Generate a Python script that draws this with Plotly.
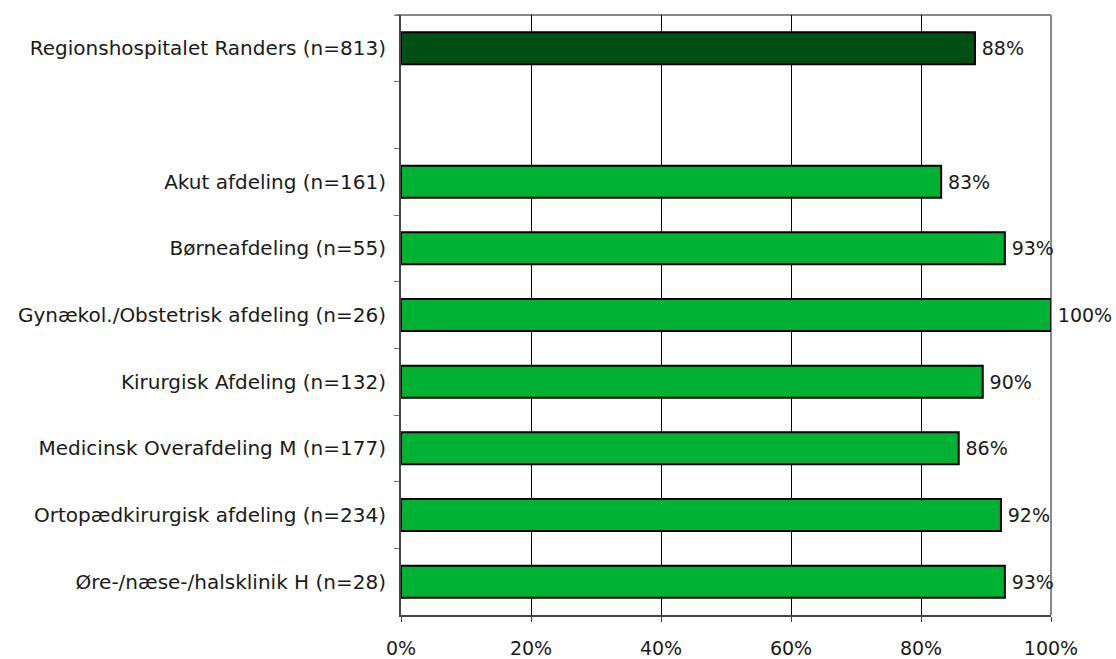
import plotly.graph_objects as go

categories = [
    "Regionshospitalet Randers (n=813)",
    " ",
    "Akut afdeling (n=161)",
    "Børneafdeling (n=55)",
    "Gynækol./Obstetrisk afdeling (n=26)",
    "Kirurgisk Afdeling (n=132)",
    "Medicinsk Overafdeling M (n=177)",
    "Ortopædkirurgisk afdeling (n=234)",
    "Øre-/næse-/halsklinik H (n=28)",
]
values = [88.3, None, 83.1, 92.9, 100.0, 89.5, 85.8, 92.3, 92.9]
colors = ["#004F14", "#00B233", "#00B233", "#00B233", "#00B233", "#00B233", "#00B233", "#00B233", "#00B233"]
x_ticks = [0, 20, 40, 60, 80, 100]
x_tick_text = ["0%", "20%", "40%", "60%", "80%", "100%"]

FONT = "DejaVu Sans"
TXT = "#1a1a1a"

fig = go.Figure()
fig.add_trace(go.Bar(
    y=categories, x=values, orientation="h",
    marker=dict(color=colors, line=dict(color="black", width=2)),
    width=0.48,
    text=[("" if v is None else f"\u2009{v:.0f}%") for v in values],
    textposition="outside", cliponaxis=False, constraintext="none",
    textfont=dict(family=FONT, size=19, color=TXT),
    hoverinfo="skip",
))

fig.update_layout(
    width=1116, height=659,
    margin=dict(l=401, r=65, t=15, b=44),
    plot_bgcolor="white", paper_bgcolor="white",
    showlegend=False,
    font=dict(family=FONT, size=20, color=TXT),
)
fig.update_xaxes(
    range=[0, 100], tickvals=x_ticks, ticktext=x_tick_text,
    showgrid=True, gridcolor="black", gridwidth=1,
    showline=True, linecolor="#444444", linewidth=2,
    ticks="outside", ticklen=5, tickcolor="#444444",
    ticklabelstandoff=10, zeroline=False, automargin=False,
    tickfont=dict(family=FONT, size=19, color=TXT),
)
fig.update_yaxes(
    type="category", categoryorder="array", categoryarray=categories,
    autorange="reversed", tickson="boundaries",
    showline=True, linecolor="#444444", linewidth=2,
    ticks="outside", ticklen=5, tickcolor="#777777",
    ticklabelstandoff=9, automargin=False,
    showgrid=False, zeroline=False,
    tickfont=dict(family=FONT, size=20, color=TXT),
)
# top and right border
fig.add_shape(type="line", xref="paper", yref="paper", x0=-0.008, x1=1, y0=1, y1=1,
              line=dict(color="#888888", width=2), layer="below")
fig.add_shape(type="line", xref="paper", yref="paper", x0=1, x1=1, y0=0, y1=1,
              line=dict(color="#888888", width=2), layer="below")

fig.write_html(
    "out.html",
    config={"displayModeBar": False},
    post_script="document.body.style.margin='0';document.body.style.overflow='hidden';",
)
